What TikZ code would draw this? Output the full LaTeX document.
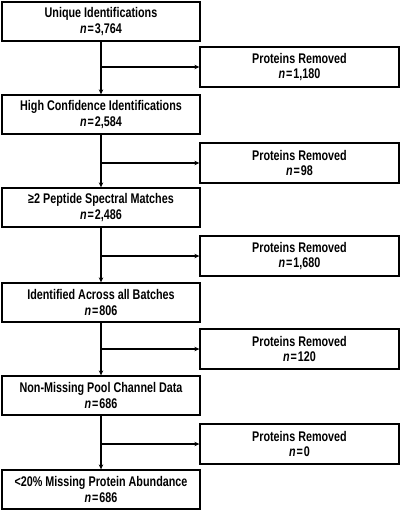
\documentclass[tikz,border=0pt]{standalone}
\usepackage{fontspec}
\setmainfont{Liberation Sans}[FakeStretch=0.77]
\usetikzlibrary{arrows.meta}
\tikzset{
  box/.style={draw=black, line width=1.3pt, fill=white, inner sep=0pt, align=center,
    font=\fontsize{14}{15.5}\selectfont\bfseries},
  lbox/.style={box, minimum width=198pt, minimum height=39pt},
  rbox/.style={box, minimum width=199pt, minimum height=40pt},
  arr/.style={line width=1.3pt, -{Stealth[length=5pt,width=4.5pt]}}
}
\newcommand{\nval}[1]{\textit{n}\hspace{1pt}=\hspace{1pt}#1}
\begin{document}
\begin{tikzpicture}[x=1pt,y=-1pt]
\useasboundingbox[fill=white] (0,0) rectangle (400,513);
\node[lbox] (B1) at (101,21.5) {Unique Identifications\\\nval{3,764}};
\node[lbox] (B2) at (101,114.5) {High Confidence Identifications\\\nval{2,584}};
\node[lbox] (B3) at (101,207.5) {≥2 Peptide Spectral Matches\\\nval{2,486}};
\node[lbox] (B4) at (101,302.5) {Identified Across all Batches\\\nval{806}};
\node[lbox] (B5) at (101,395.5) {Non-Missing Pool Channel Data\\\nval{686}};
\node[lbox] (B6) at (101,489.5) {<20\% Missing Protein Abundance\\\nval{686}};
\node[rbox] (R1) at (299.5,67) {Proteins Removed\\\nval{1,180}};
\node[rbox] (R2) at (299.5,163) {Proteins Removed\\\nval{98}};
\node[rbox] (R3) at (299.5,256) {Proteins Removed\\\nval{1,680}};
\node[rbox] (R4) at (299.5,349) {Proteins Removed\\\nval{120}};
\node[rbox] (R5) at (299.5,444) {Proteins Removed\\\nval{0}};
\foreach \a/\b/\r in {B1/B2/R1,B2/B3/R2,B3/B4/R3,B4/B5/R4,B5/B6/R5}{
  \draw[arr] (\a.south) -- (\b.north);
  \draw[arr] (\a.south |- \r.west) -- (\r.west);
}
\end{tikzpicture}
\end{document}
